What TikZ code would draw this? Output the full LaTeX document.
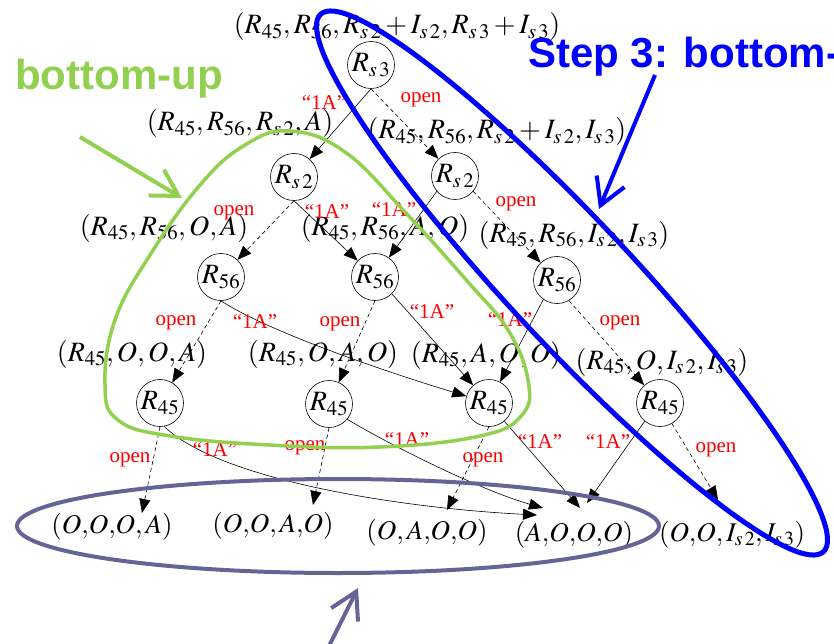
\documentclass[tikz,border=0pt]{standalone}
\usepackage{mathptmx}
\usepackage[no-math]{fontspec}
\setmainfont{Liberation Serif}
\newfontfamily\headsans{Liberation Sans}
\usetikzlibrary{arrows.meta,calc}
\definecolor{grn}{HTML}{92D050}
\definecolor{slate}{HTML}{646496}
\definecolor{labred}{HTML}{FF0000}
\begin{document}
\begin{tikzpicture}[x=1pt,y=-1pt,
  state/.style={font=\fontsize{28}{30}\selectfont, inner sep=0pt},
  bstate/.style={font=\fontsize{27}{30}\selectfont, inner sep=0pt},
  circ/.style={draw, circle, minimum size=47pt, inner sep=0pt, line width=0.6pt, font=\fontsize{28}{30}\selectfont},
  lab/.style={text=labred, font=\fontsize{21}{23}\selectfont, inner sep=0pt},
  edge/.style={line width=0.6pt, -{Triangle[length=14pt,width=11pt]}},
  dedge/.style={edge, dash pattern=on 4pt off 3pt},
  bigarrow/.style={line width=4pt, -{Straight Barb[length=26pt,width=30pt]}}]
\useasboundingbox (0,0) rectangle (834,644);
\clip (0,0) rectangle (834,644);
% state labels
\node[state] (s0) at (397,27) {$(R_{45},R_{56},R_{s\,2}+I_{s\,2},R_{s\,3}+I_{s\,3})$};
\node[state] (s1) at (240,124) {$(R_{45},R_{56},R_{s\,2},A)$};
\node[state] (s2) at (497,132) {$(R_{45},R_{56},R_{s\,2}+I_{s\,2},I_{s\,3})$};
\node[state] (s3) at (164,228) {$(R_{45},R_{56},O,A)$};
\node[state] (s4) at (385,228) {$(R_{45},R_{56},A,O)$};
\node[state] (s5) at (574,235) {$(R_{45},R_{56},I_{s\,2},I_{s\,3})$};
\node[state] (s6) at (132,354) {$(R_{45},O,O,A)$};
\node[state] (s7) at (323,354) {$(R_{45},O,A,O)$};
\node[state] (s8) at (486,355) {$(R_{45},A,O,O)$};
\node[state] (s9) at (662,362) {$(R_{45},O,I_{s\,2},I_{s\,3})$};
\node[bstate] (b1) at (112,527) {$(O{,}O{,}O,A)$};
\node[bstate] (b2) at (273,526) {$(O{,}O,A{,}O)$};
\node[bstate] (b3) at (427,533) {$(O,A{,}O{,}O)$};
\node[bstate] (b4) at (574,535) {$(A{,}O{,}O{,}O)$};
\node[bstate] (b5) at (732,535) {$(O{,}O,I_{s\,2},I_{s\,3})$};
% circle nodes
\node[circ] (rs3) at (371,65) {$R_{s\,3}$};
\node[circ] (r2l) at (294,177) {$R_{s\,2}$};
\node[circ] (r2r) at (455,176) {$R_{s\,2}$};
\node[circ] (r56a) at (221,277) {$R_{56}$};
\node[circ] (r56b) at (375,277) {$R_{56}$};
\node[circ] (r56c) at (557,280) {$R_{56}$};
\node[circ] (r45a) at (160,403) {$R_{45}$};
\node[circ] (r45b) at (329,404) {$R_{45}$};
\node[circ] (r45c) at (489,403) {$R_{45}$};
\node[circ] (r45d) at (660,403) {$R_{45}$};
% edges
\draw[edge] (rs3.south) -- (r2l);
\draw[dedge] (rs3.south) -- (r2r);
\draw[dedge] (r2l.south) -- (r56a);
\draw[edge] (r2l.south) -- (r56b);
\draw[edge] (r2r.-140) -- (r56b);
\draw[dedge] (r2r.-40) -- (r56c);
\draw[dedge] (r56a.south) -- (r45a);
\draw[edge] (r56a.south) .. controls (265,330) and (380,370) .. (r45c);
\draw[dedge] (r56b.south) -- (r45b);
\draw[edge] (r56b.-45) -- (r45c);
\draw[edge] (r56c.-125) -- (r45c);
\draw[dedge] (r56c.-60) -- (r45d);
\draw[dedge] (r45a.south) -- ($(b1)+(30,-14)$);
\draw[edge] (r45a.-80) .. controls (220,480) and (400,508) .. ($(b4)+(-37,-20)$);
\draw[dedge] (r45b.south) -- ($(b2)+(40,-21)$);
\draw[edge] (r45b.-40) .. controls (390,445) and (480,490) .. ($(b4)+(-31,-27)$);
\draw[dedge] (r45c.south) -- ($(b3)+(20,-23)$);
\draw[edge] (r45c.-50) -- ($(b4)+(6,-27)$);
\draw[edge] (r45d.-130) -- ($(b4)+(13,-32)$);
\draw[dedge] (r45d.-60) -- ($(b5)+(-14,-35)$);
% edge labels
\node[lab] (l1) at (324,103) {“1A”};
\node[lab] (l2) at (421,100) {open};
\node[lab] (l3) at (234,213) {open};
\node[lab] (l4) at (327,212) {“1A”};
\node[lab] (l5) at (394,210) {“1A”};
\node[lab] (l6) at (516,204) {open};
\node[lab] (l7) at (176,323) {open};
\node[lab] (l8) at (255,322) {“1A”};
\node[lab] (l9) at (340,324) {open};
\node[lab] (l10) at (432,312) {“1A”};
\node[lab] (l11) at (510,320) {“1A”};
\node[lab] (l12) at (620,323) {open};
\node[lab] (l13) at (130,460) {open};
\node[lab] (l14) at (215,450) {“1A”};
\node[lab] (l15) at (305,448) {open};
\node[lab] (l16) at (407,440) {“1A”};
\node[lab] (l17) at (483,460) {open};
\node[lab] (l18) at (540,442) {“1A”};
\node[lab] (l19) at (608,442) {“1A”};
\node[lab] (l20) at (716,450) {open};
% overlays
\draw[grn, line width=3.5pt] plot[smooth cycle, tension=0.7] coordinates {(290,131) (345,152) (405,212) (468,282) (508,330) (528,380) (522,415) (480,436) (380,447) (270,445) (170,436) (118,420) (105,385) (115,320) (150,255) (200,185) (245,145)};
\draw[blue, line width=5pt, rotate around={-46.9:(572,283)}] (572,283) ellipse [x radius=368pt, y radius=62pt];
\draw[slate, line width=4pt] (338,526) ellipse [x radius=321pt, y radius=47pt];
\node[anchor=base west, text=grn, inner sep=0pt, font=\headsans\bfseries\fontsize{42}{44}\selectfont] (bu) at (15,90) {bottom-up};
\node[anchor=base west, text=blue, inner sep=0pt, font=\headsans\bfseries\fontsize{42}{44}\selectfont] (st) at (528,68) {Step 3: bottom-};
\coordinate (ga) at (80,137);
\coordinate (gb) at (182,198);
\draw[grn, bigarrow] (ga) -- (gb);
\coordinate (ba) at (655,75);
\coordinate (bb) at (599,209);
\draw[blue, bigarrow] (ba) -- (bb);
\coordinate (pa) at (327,650);
\coordinate (pb) at (358,588);
\draw[slate, bigarrow] (pa) -- (pb);
\end{tikzpicture}
\end{document}
